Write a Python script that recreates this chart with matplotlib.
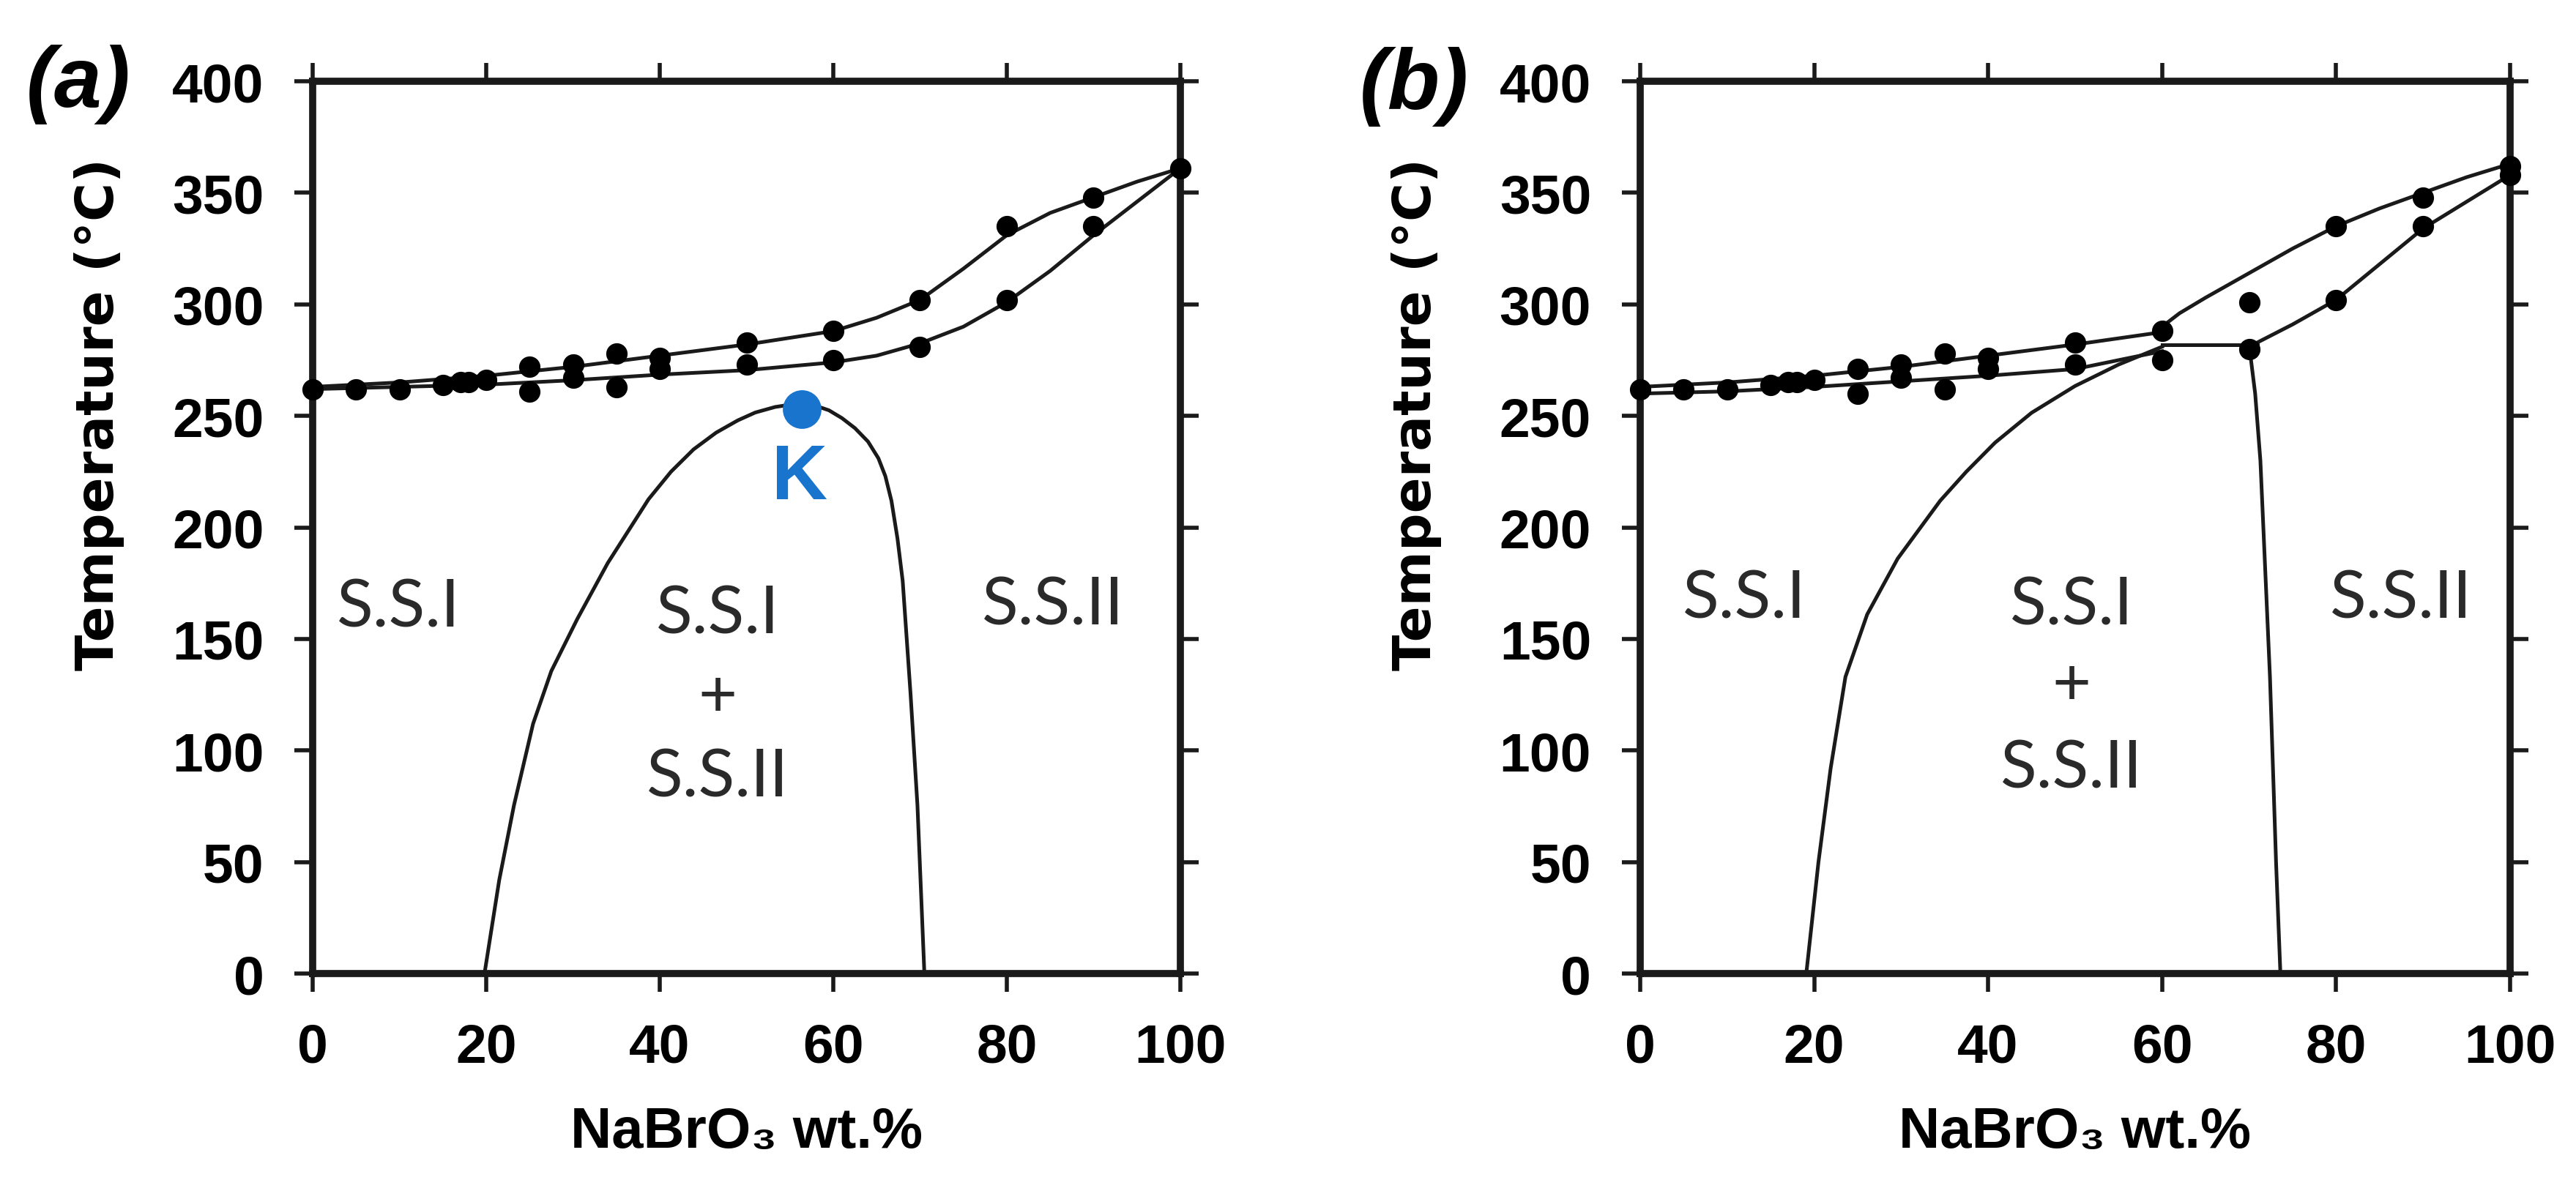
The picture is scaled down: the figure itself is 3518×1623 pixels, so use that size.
import matplotlib.pyplot as plt

# experimental points (same measurements in both panels)
comp_pts = [0, 5, 10, 15, 17, 18, 20, 25, 25, 30, 30, 35, 35, 40, 40,
            50, 50, 60, 60, 70, 70, 80, 80, 90, 90, 100]
temp_pts_a = [262, 262, 262, 264, 265, 265, 266, 272, 261, 273, 267, 278, 263, 276, 271,
              283, 273, 288, 275, 302, 281, 335, 302, 348, 335, 361]
comp_pts_b = comp_pts + [100]
temp_pts_b = [262, 262, 262, 264, 265, 265, 266, 271, 260, 273, 267, 278, 262, 276, 271,
              283, 273, 288, 275, 301, 280, 335, 302, 348, 335, 362, 358]

# panel (a) boundaries
upper_a_x = [0, 10, 20, 30, 40, 50, 60, 65, 70, 75, 80, 85, 90, 95, 100]
upper_a_t = [263, 265, 268, 272, 277, 282, 288, 294, 302, 316, 331, 341, 348, 355, 361]
lower_a_x = [0, 10, 20, 30, 40, 50, 60, 65, 70, 75, 80, 85, 90, 95, 100]
lower_a_t = [262, 263, 264, 266, 268.5, 270.5, 274, 277, 282.5, 290, 301, 315, 331, 346, 361]
gap_a_x = [19.8, 21.5, 23.2, 25.4, 27.5, 30.5, 34.0, 38.7, 41.3, 43.9, 46.5, 49.0, 51.0,
           53.3, 55.0, 56.4, 58.0, 59.5, 61.0, 62.5, 64.0, 65.2, 66.0, 66.7, 67.4, 68.0,
           68.9, 69.7, 70.5]
gap_a_t = [0, 42, 75.5, 112, 135.6, 159, 184, 212.6, 225, 235, 242.5, 248, 251.5,
           254, 255, 255, 254.5, 252.5, 249, 244.5, 238.5, 231, 223, 212, 195, 176,
           125.7, 75.5, 0]
k_point = (56.4, 253)

# panel (b) boundaries
upper_b_x = [0, 10, 20, 30, 40, 50, 59, 62, 65, 70, 75, 80, 85, 90, 95, 100]
upper_b_t = [263, 265, 268, 272, 277, 282, 287, 296, 303, 314, 325, 335, 343, 350, 357, 363]
lower_b_left_x = [0, 10, 20, 30, 40, 50, 60]
lower_b_left_t = [260, 261, 263, 265.5, 268, 271, 279]
flat_b_x = [60, 71]
flat_b_t = [282, 282]
lower_b_right_x = [71, 75, 80, 85, 90, 95, 100]
lower_b_right_t = [283, 291, 302, 318, 334, 346, 358]
gap_b_left_x = [19.1, 20.5, 21.9, 23.6, 26.1, 29.6, 34.5, 37.5, 40.8, 45, 50, 55, 60]
gap_b_left_t = [0, 50, 92, 133, 161, 186, 212, 225, 238, 251.4, 263.4, 273, 281]
gap_b_right_x = [70, 70.7, 71.3, 72.4, 73.1, 73.6]
gap_b_right_t = [282, 260, 230, 133, 50, 0]

x_ticks = [0, 20, 40, 60, 80, 100]
y_ticks = [0, 50, 100, 150, 200, 250, 300, 350, 400]

region_font = ['Lato', 'DejaVu Sans']
tick_font = 'Liberation Sans'
blue = '#1874cd'


def style_axes(ax, label_x):
    ax.set_xlim(0, 100)
    ax.set_ylim(0, 400)
    ax.set_xticks(x_ticks)
    ax.set_yticks(y_ticks)
    ax.tick_params(direction='out', length=9, width=2, top=True, right=True,
                   labelsize=27, pad=15, color='#1a1a1a')
    for lbl in ax.get_xticklabels() + ax.get_yticklabels():
        lbl.set_fontfamily(tick_font)
        lbl.set_fontweight('bold')
    for sp in ax.spines.values():
        sp.set_linewidth(3.5)
        sp.set_color('#1a1a1a')
    ax.set_xlabel('NaBrO₃ wt.%', fontsize=28, fontweight='bold', family=tick_font)
    ax.xaxis.set_label_coords(0.5, -0.148)
    ax.set_ylabel('Temperature (°C)', fontsize=26, fontweight='bold', family='DejaVu Sans')
    ax.yaxis.set_label_coords(label_x, 0.628)


def region_labels(ax, left, mid, right):
    kw = dict(fontsize=33, family=region_font, fontweight='normal',
              ha='center', va='center', color='#2a2a2a')
    ax.text(left[0], left[1], 'S.S.I', **kw)
    ax.text(mid[0], mid[1], 'S.S.I', **kw)
    ax.text(mid[0], mid[2], '+', **kw)
    ax.text(mid[0], mid[3], 'S.S.II', **kw)
    ax.text(right[0], right[1], 'S.S.II', **kw)


fig = plt.figure(figsize=(17.59, 8.12), dpi=200)
ax_a = fig.add_axes([0.1214, 0.1804, 0.3368, 0.7506])
ax_b = fig.add_axes([0.6367, 0.1804, 0.3377, 0.7506])

line_kw = dict(color='#1a1a1a', lw=1.8, clip_on=False)
dot_kw = dict(ls='none', marker='o', ms=9.5, color='black', clip_on=False, zorder=4)

# (a)
ax_a.plot(upper_a_x, upper_a_t, **line_kw)
ax_a.plot(lower_a_x, lower_a_t, **line_kw)
ax_a.plot(gap_a_x, gap_a_t, **line_kw)
ax_a.plot(comp_pts, temp_pts_a, **dot_kw)
ax_a.plot([k_point[0]], [k_point[1]], marker='o', ms=18, color=blue, zorder=5)
ax_a.text(56.1, 222, 'K', fontsize=38, fontweight='bold', color=blue,
          family=tick_font, ha='center', va='center')
region_labels(ax_a, (9.9, 164), (46.7, 161, 124, 88), (85.3, 165))
style_axes(ax_a, -0.217)

# (b)
ax_b.plot(upper_b_x, upper_b_t, **line_kw)
ax_b.plot(lower_b_left_x, lower_b_left_t, **line_kw)
ax_b.plot(flat_b_x, flat_b_t, **line_kw)
ax_b.plot(lower_b_right_x, lower_b_right_t, **line_kw)
ax_b.plot(gap_b_left_x, gap_b_left_t, **line_kw)
ax_b.plot(gap_b_right_x, gap_b_right_t, **line_kw)
ax_b.plot(comp_pts_b, temp_pts_b, **dot_kw)
region_labels(ax_b, (12, 168), (49.6, 165, 129, 92), (87.5, 168))
style_axes(ax_b, -0.228)

fig.text(0.0304, 0.929, '(a)', fontsize=42, fontweight='bold', fontstyle='italic',
         family=tick_font, ha='center', va='center')
fig.text(0.549, 0.927, '(b)', fontsize=42, fontweight='bold', fontstyle='italic',
         family=tick_font, ha='center', va='center')

fig.savefig('out.png', dpi=200, facecolor='white')
